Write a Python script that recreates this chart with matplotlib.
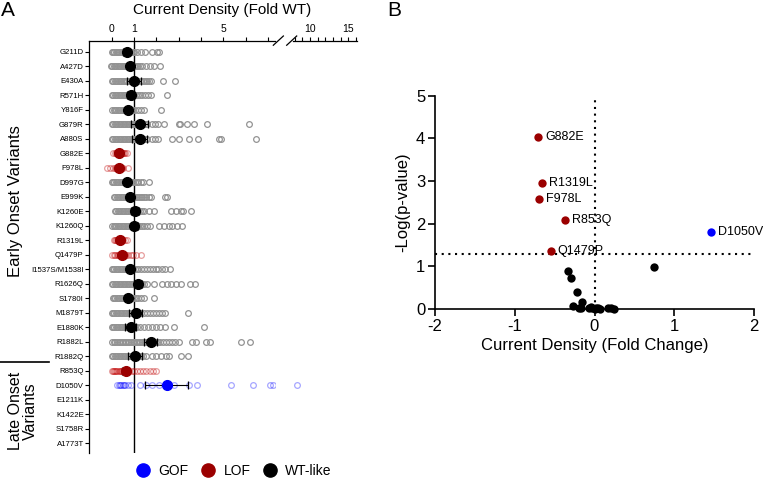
import matplotlib
matplotlib.use("Agg")
import matplotlib.pyplot as plt
from matplotlib.lines import Line2D

plt.rcParams['font.family'] = ['Liberation Sans', 'DejaVu Sans']
plt.rcParams['axes.unicode_minus'] = False

# -------------------- datos panel A --------------------
variants = ["G211D", "A427D", "E430A", "R571H", "Y816F", "G879R", "A880S", "G882E",
            "F978L", "D997G", "E999K", "K1260E", "K1260Q", "R1319L", "Q1479P",
            "I1537S/M1538I", "R1626Q", "S1780I", "M1879T", "E1880K", "R1882L", "R1882Q",
            "R853Q", "D1050V", "E1211K", "K1422E", "S1758R", "A1773T"]
groups = ["wt", "wt", "wt", "wt", "wt", "wt", "wt", "lof", "lof", "wt", "wt", "wt", "wt",
          "lof", "lof", "wt", "wt", "wt", "wt", "wt", "wt", "wt", "lof", "gof"]
means = [0.68, 0.82, 1.0, 0.85, 0.75, 1.25, 1.25, 0.33, 0.33, 0.7, 0.82, 1.04, 1.02,
         0.37, 0.48, 0.81, 1.18, 0.73, 1.07, 0.85, 1.75, 1.04, 0.63, 2.46]
sems = [0.16, 0.12, 0.3, 0.15, 0.12, 0.37, 0.35, 0.1, 0.14, 0.1, 0.13, 0.17, 0.17,
        0.08, 0.12, 0.12, 0.16, 0.12, 0.28, 0.25, 0.28, 0.3, 0.16, 0.95]
cells = [
    [0.01, 0.07, 0.12, 0.18, 0.24, 0.29, 0.35, 0.4, 0.46, 0.51, 0.56, 0.6, 0.65, 0.69, 0.73, 0.78, 0.83, 0.88, 0.94, 1.0, 1.15, 1.3, 1.49, 1.79, 2.05, 2.12],
    [-0.04, 0.03, 0.09, 0.15, 0.21, 0.27, 0.33, 0.39, 0.45, 0.5, 0.55, 0.6, 0.66, 0.71, 0.76, 0.81, 0.87, 0.93, 0.99, 1.06, 1.13, 1.2, 1.28, 1.36, 1.52, 1.72, 1.9, 2.15],
    [0.02, 0.08, 0.14, 0.2, 0.26, 0.32, 0.38, 0.44, 0.5, 0.56, 0.63, 0.7, 0.78, 0.86, 0.94, 1.02, 1.1, 1.2, 1.32, 1.4, 1.47, 1.53, 1.6, 1.68, 1.75, 2.31, 2.82],
    [0.02, 0.08, 0.14, 0.2, 0.26, 0.32, 0.38, 0.44, 0.5, 0.56, 0.62, 0.68, 0.74, 0.8, 0.87, 0.94, 1.02, 1.1, 1.19, 1.28, 1.38, 1.5, 1.62, 1.75, 2.5],
    [0.03, 0.09, 0.15, 0.21, 0.27, 0.33, 0.39, 0.45, 0.5, 0.55, 0.6, 0.65, 0.7, 0.76, 0.82, 0.89, 0.96, 1.05, 1.17, 1.3, 1.45, 2.2],
    [0.02, 0.08, 0.14, 0.2, 0.26, 0.32, 0.38, 0.44, 0.5, 0.56, 0.62, 0.68, 0.74, 0.8, 0.86, 0.92, 0.98, 1.04, 1.1, 1.17, 1.24, 1.31, 1.38, 1.45, 1.52, 1.6, 1.82, 1.95, 2.1, 2.34, 3.0, 3.06, 3.39, 3.69, 4.29, 6.15],
    [0.02, 0.08, 0.14, 0.2, 0.26, 0.32, 0.38, 0.44, 0.5, 0.56, 0.62, 0.68, 0.74, 0.8, 0.86, 0.92, 0.98, 1.04, 1.1, 1.17, 1.24, 1.31, 1.38, 1.45, 1.52, 1.6, 1.82, 1.95, 2.1, 2.72, 3.01, 3.46, 3.87, 4.81, 4.91, 6.48],
    [0.08, 0.13, 0.18, 0.22, 0.26, 0.3, 0.34, 0.38, 0.42, 0.46, 0.5, 0.55, 0.62, 0.7],
    [-0.22, -0.07, 0.08, 0.16, 0.21, 0.26, 0.3, 0.34, 0.38, 0.42, 0.47, 0.52, 0.73],
    [0.0, 0.06, 0.12, 0.18, 0.24, 0.3, 0.36, 0.42, 0.48, 0.54, 0.6, 0.66, 0.72, 0.78, 0.84, 0.9, 0.97, 1.04, 1.12, 1.2, 1.3, 1.42, 1.67],
    [0.1, 0.16, 0.22, 0.28, 0.34, 0.4, 0.46, 0.52, 0.58, 0.64, 0.7, 0.76, 0.82, 0.88, 0.94, 1.0, 1.07, 1.14, 1.22, 1.3, 1.38, 1.47, 1.56, 1.66, 1.77, 2.38, 2.5],
    [0.15, 0.21, 0.27, 0.33, 0.39, 0.45, 0.51, 0.57, 0.63, 0.69, 0.75, 0.81, 0.87, 0.93, 0.99, 1.05, 1.12, 1.19, 1.27, 1.35, 1.45, 1.67, 1.9, 2.64, 2.87, 3.09, 3.21, 3.54],
    [0.03, 0.09, 0.15, 0.21, 0.27, 0.33, 0.39, 0.45, 0.51, 0.57, 0.63, 0.69, 0.75, 0.81, 0.87, 0.93, 0.99, 1.05, 1.12, 1.19, 1.27, 1.35, 1.45, 1.57, 1.7, 2.12, 2.34, 2.57, 2.72, 2.91, 3.16],
    [0.1, 0.15, 0.2, 0.24, 0.28, 0.32, 0.36, 0.4, 0.44, 0.48, 0.53, 0.6, 0.7],
    [0.03, 0.1, 0.17, 0.23, 0.29, 0.34, 0.39, 0.43, 0.47, 0.51, 0.55, 0.6, 0.66, 0.73, 0.85, 0.97, 1.1, 1.3],
    [0.0, 0.06, 0.12, 0.18, 0.24, 0.3, 0.36, 0.42, 0.48, 0.54, 0.6, 0.66, 0.72, 0.78, 0.84, 0.9, 0.97, 1.04, 1.12, 1.2, 1.3, 1.45, 1.58, 1.72, 1.86, 1.98, 2.1, 2.25, 2.4, 2.6],
    [0.02, 0.08, 0.14, 0.2, 0.26, 0.32, 0.38, 0.44, 0.5, 0.56, 0.62, 0.68, 0.74, 0.8, 0.86, 0.92, 0.98, 1.05, 1.12, 1.2, 1.28, 1.37, 1.47, 1.58, 1.9, 2.27, 2.49, 2.67, 2.87, 3.09, 3.51, 3.72],
    [0.05, 0.11, 0.17, 0.23, 0.29, 0.35, 0.41, 0.47, 0.53, 0.59, 0.65, 0.71, 0.77, 0.84, 0.91, 0.99, 1.08, 1.2, 1.32, 1.45, 1.9],
    [0.0, 0.06, 0.12, 0.18, 0.24, 0.3, 0.36, 0.42, 0.48, 0.54, 0.6, 0.66, 0.72, 0.78, 0.84, 0.9, 0.97, 1.04, 1.12, 1.2, 1.3, 1.45, 1.58, 1.72, 1.86, 2.0, 2.13, 2.27, 2.4, 3.42],
    [0.0, 0.06, 0.12, 0.18, 0.24, 0.3, 0.36, 0.42, 0.48, 0.54, 0.6, 0.66, 0.72, 0.78, 0.84, 0.9, 0.97, 1.05, 1.14, 1.25, 1.45, 1.62, 1.8, 1.98, 2.16, 2.37, 2.79, 4.16],
    [0.03, 0.1, 0.17, 0.24, 0.31, 0.38, 0.45, 0.52, 0.59, 0.66, 0.73, 0.8, 0.87, 0.94, 1.01, 1.08, 1.15, 1.22, 1.29, 1.36, 1.43, 1.5, 1.58, 1.66, 1.74, 1.82, 1.9, 1.99, 2.08, 2.18, 2.3, 2.42, 2.55, 2.7, 2.85, 3.0, 3.61, 3.76, 4.25, 4.4, 5.78, 6.19],
    [0.02, 0.08, 0.14, 0.2, 0.26, 0.32, 0.38, 0.44, 0.5, 0.56, 0.62, 0.68, 0.74, 0.8, 0.86, 0.92, 0.98, 1.05, 1.12, 1.2, 1.3, 1.42, 1.55, 1.8, 2.0, 2.2, 2.45, 2.55, 3.09, 3.42],
    [0.01, 0.06, 0.11, 0.16, 0.21, 0.26, 0.31, 0.36, 0.41, 0.46, 0.51, 0.56, 0.61, 0.67, 0.73, 0.8, 0.9, 1.0, 1.12, 1.25, 1.4, 1.55, 1.7, 1.85, 1.97],
    [0.25, 0.31, 0.37, 0.43, 0.49, 0.55, 0.61, 0.73, 0.85, 1.27, 1.52, 1.82, 2.12, 2.49, 2.79, 3.46, 3.84, 5.36, 6.33, 7.1, 7.22, 8.28],
]

# -------------------- datos panel B --------------------
b_wt_x = [0.75, -0.33, -0.30, -0.22, -0.16, -0.27, -0.20, -0.17, -0.07, -0.03,
          0.01, 0.04, 0.07, 0.02, 0.17, 0.21, 0.25, -0.05]
b_wt_y = [0.98, 0.88, 0.72, 0.41, 0.17, 0.08, 0.03, 0.02, 0.02, 0.02,
          0.01, 0.02, 0.01, 0.03, 0.02, 0.02, 0.01, 0.04]
b_lof_names = ["G882E", "R1319L", "F978L", "R853Q", "Q1479P"]
b_lof_x = [-0.705, -0.66, -0.69, -0.37, -0.55]
b_lof_y = [4.03, 2.96, 2.58, 2.09, 1.35]
b_gof_names = ["D1050V"]
b_gof_x = [1.46]
b_gof_y = [1.80]
p_thresh = 1.3

# colores
RED = "#9b0000"
BLUE = "#0000ff"
pt_style = {
    "wt": dict(mec="#939393", alpha=1.0),
    "lof": dict(mec="#c00000", alpha=0.38),
    "gof": dict(mec="#0000ff", alpha=0.35),
}
mean_col = {"wt": "black", "lof": RED, "gof": BLUE}

W, H = 763, 478
fig = plt.figure(figsize=(W / 100, H / 100), dpi=100)

def fx(px):
    return px / W

def fy(py):
    return 1 - py / H

# -------------------- panel A --------------------
a_top, a_bot = 40.7, 453
ax1 = fig.add_axes([fx(89.3), fy(a_bot), fx(185.7), (a_bot - a_top) / H])
ax2 = fig.add_axes([fx(293), fy(a_bot), fx(63.7), (a_bot - a_top) / H], sharey=ax1)
ax1.set_xlim(-1, 7.32)
ax2.set_xlim(7.8, 16.1)
ax1.set_ylim(27.67, -0.76)

for i, vals in enumerate(cells):
    g = groups[i]
    st = pt_style[g]
    for ax in (ax1, ax2):
        ax.plot(vals, [i] * len(vals), "o", ms=4.1, mfc="none", mew=0.9,
                mec=st["mec"], alpha=st["alpha"], zorder=2)
    ax1.errorbar(means[i], i, xerr=sems[i], fmt="none", ecolor="black",
                 elinewidth=0.8, capsize=3.2, capthick=0.9, zorder=3)
    ax1.plot(means[i], i, "o", ms=7, color=mean_col[g], mec=mean_col[g], zorder=4)

ax1.axvline(1, color="black", lw=1, zorder=1)

for ax in (ax1, ax2):
    ax.spines["bottom"].set_visible(False)
    ax.spines["right"].set_visible(False)
    ax.xaxis.set_ticks_position("top")
    ax.tick_params(axis="x", which="both", direction="out", length=3, width=0.8,
                   labelsize=7.5, pad=1.5)
    ax.spines["top"].set_linewidth(0.9)
ax2.spines["left"].set_visible(False)
ax2.tick_params(axis="y", left=False, labelleft=False)

ax1.set_xticks([0, 1, 5])
ax1.set_xticks([2, 3, 4, 6, 7], minor=True)
ax2.set_xticks([10, 15])
ax2.set_xticks([8, 9, 11, 12, 13, 14, 16], minor=True)

ax1.set_yticks(range(len(variants)))
ax1.set_yticklabels(variants, fontsize=5.6)
ax1.tick_params(axis="y", direction="out", length=3, width=0.8, pad=1)
ax1.spines["left"].set_linewidth(0.9)

# marcas de corte //
kw = dict(color="black", lw=0.9, clip_on=False)
ax1.plot([0.991, 1.045], [0.989, 1.0114], transform=ax1.transAxes, **kw)
ax2.plot([-0.099, 0.058], [0.989, 1.0114], transform=ax2.transAxes, **kw)

fig.text(fx(222), fy(10), "Current Density (Fold WT)", ha="center", va="center", fontsize=11)
fig.text(fx(1), fy(10), "A", ha="left", va="center", fontsize=15)

fig.text(fx(16), fy(201), "Early Onset Variants", rotation=90, ha="center", va="center", fontsize=12)
fig.text(fx(23), fy(411), "Late Onset\nVariants", rotation=90, ha="center", va="center",
         fontsize=11.5, multialignment="center", linespacing=1.05)
fig.add_artist(Line2D([0, fx(49)], [fy(362), fy(362)], color="black", lw=1.2))

handles = [Line2D([], [], marker="o", ls="", color=c, ms=9.5) for c in (BLUE, RED, "black")]
fig.legend(handles, ["GOF", "LOF", "WT-like"], loc="center", bbox_to_anchor=(fx(234), fy(471)),
           ncol=3, frameon=False, fontsize=10, handlelength=1.0, handletextpad=0.6,
           columnspacing=0.9, borderaxespad=0, borderpad=0)

# -------------------- panel B --------------------
axb = fig.add_axes([fx(435), fy(309), fx(319), (309 - 95.7) / H])
axb.set_xlim(-2, 2)
axb.set_ylim(0, 5)
axb.axhline(p_thresh, color="black", ls=(0, (1, 2.2)), lw=1.5, zorder=1)
axb.plot([0, 0], [0, 5], color="black", ls=(0, (1, 2.2)), lw=1.5, zorder=1)

axb.scatter(b_wt_x, b_wt_y, s=36, color="black", zorder=3, clip_on=False, lw=0)
axb.scatter(b_lof_x, b_lof_y, s=36, color=RED, zorder=3, clip_on=False, lw=0)
axb.scatter(b_gof_x, b_gof_y, s=36, color=BLUE, zorder=3, clip_on=False, lw=0)
for n, x, y in zip(b_lof_names + b_gof_names, b_lof_x + b_gof_x, b_lof_y + b_gof_y):
    axb.annotate(n, (x, y), xytext=(5, 0), textcoords="offset points",
                 va="center", ha="left", fontsize=9, zorder=4)

for s in ("top", "right"):
    axb.spines[s].set_visible(False)
for s in ("left", "bottom"):
    axb.spines[s].set_linewidth(1.2)
axb.set_xticks([-2, -1, 0, 1, 2])
axb.set_yticks([0, 1, 2, 3, 4, 5])
axb.tick_params(direction="out", length=5, width=1.2, labelsize=12, pad=2)
axb.set_xlabel("Current Density (Fold Change)", fontsize=12, labelpad=3)
axb.set_ylabel("-Log(p-value)", fontsize=12, labelpad=4)
fig.text(fx(387), fy(10), "B", ha="left", va="center", fontsize=15)

fig.savefig("out.png", dpi=100)
